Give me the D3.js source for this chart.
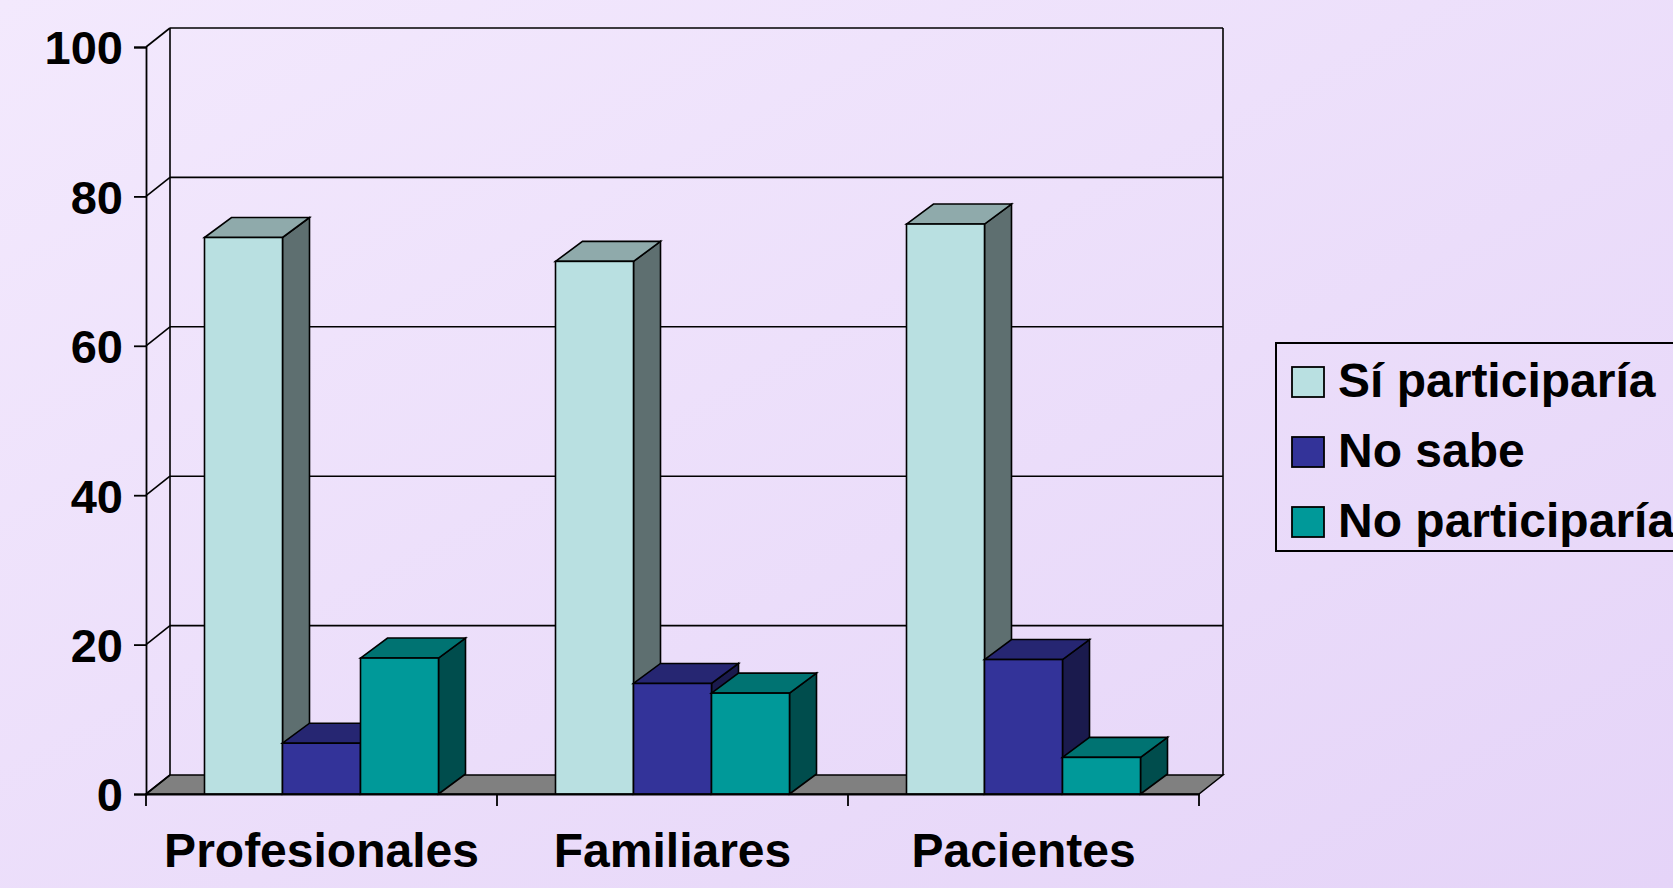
<!DOCTYPE html>
<html>
<head>
<meta charset="utf-8">
<script src="https://cdn.jsdelivr.net/npm/d3@7"></script>
<style>
html,body{margin:0;padding:0;overflow:hidden;}
svg{display:block;}
text{font-family:"Liberation Sans",Arial,sans-serif;font-weight:bold;fill:#000;}
</style>
</head>
<body>
<script>
const categories = ["Profesionales", "Familiares", "Pacientes"];
const seriesNames = ["Sí participaría", "No sabe", "No participaría"];
const siParticiparia = [74.5, 71.3, 76.3];
const noSabe = [6.8, 14.8, 18.0];
const noParticiparia = [18.2, 13.5, 4.9];
const yTicks = [0, 20, 40, 60, 80, 100];

const seriesValues = [siParticiparia, noSabe, noParticiparia];
const faceColors = [
  {front:"#B9E0E1", top:"#8FAAAB", side:"#5E6F70"},
  {front:"#333399", top:"#262672", side:"#1A1A4D"},
  {front:"#009999", top:"#007372", side:"#004D4D"}
];

const W = 1673, H = 888;
const svg = d3.select("body").append("svg").attr("width", W).attr("height", H);

const defs = svg.append("defs");
const grad = defs.append("linearGradient").attr("id","bg")
  .attr("x1","0").attr("y1","0").attr("x2","1").attr("y2","1");
grad.append("stop").attr("offset","0").attr("stop-color","#F3E9FD");
grad.append("stop").attr("offset","1").attr("stop-color","#E5D4F8");
svg.append("rect").attr("width",W).attr("height",H).attr("fill","url(#bg)");

const x = d3.scaleBand().domain(categories).range([146, 1199]);
const xs = d3.scaleBand().domain(seriesNames).range([0, x.bandwidth()]).paddingInner(0).paddingOuter(0.75);
const y = d3.scaleLinear().domain([0, 100]).range([794, 47]);

const WDX = 24, WDY = -19;   // wall depth
const BDX = 27, BDY = -20;   // bar depth
const x0 = x.range()[0], x1 = x.range()[1];

// floor
svg.append("path")
  .attr("d", `M${x0},${y(0)}L${x1},${y(0)}L${x1+WDX},${y(0)+WDY}L${x0+WDX},${y(0)+WDY}Z`)
  .attr("fill","#808080").attr("stroke","#000").attr("stroke-width",1.5);

// back wall gridlines
const g = svg.append("g").attr("stroke","#000").attr("stroke-width",1.6).attr("fill","none");
yTicks.filter(t => t > 0).forEach(t => {
  g.append("line").attr("x1", x0+WDX).attr("x2", x1+WDX)
    .attr("y1", y(t)+WDY).attr("y2", y(t)+WDY);
});
g.append("line").attr("x1", x0+WDX).attr("x2", x0+WDX).attr("y1", y(100)+WDY).attr("y2", y(0)+WDY);
g.append("line").attr("x1", x1+WDX).attr("x2", x1+WDX).attr("y1", y(100)+WDY).attr("y2", y(0)+WDY);
yTicks.forEach(t => {
  g.append("line").attr("x1", x0).attr("y1", y(t)).attr("x2", x0+WDX).attr("y2", y(t)+WDY);
});

// bars
const bars = svg.append("g").attr("stroke","#000").attr("stroke-width",1.6).attr("stroke-linejoin","miter");
categories.forEach((c, ci) => {
  seriesNames.forEach((s, si) => {
    const v = seriesValues[si][ci];
    const bx = x(c) + xs(s), bw = xs.bandwidth();
    const yt = y(v), yb = y(0);
    const col = faceColors[si];
    bars.append("path")
      .attr("d", `M${bx+bw},${yb}L${bx+bw+BDX},${yb+BDY}L${bx+bw+BDX},${yt+BDY}L${bx+bw},${yt}Z`)
      .attr("fill", col.side);
    bars.append("path")
      .attr("d", `M${bx},${yt}L${bx+BDX},${yt+BDY}L${bx+bw+BDX},${yt+BDY}L${bx+bw},${yt}Z`)
      .attr("fill", col.top);
    bars.append("rect").attr("x", bx).attr("y", yt).attr("width", bw).attr("height", yb-yt)
      .attr("fill", col.front);
  });
});

// y axis (front)
const yAxis = d3.axisLeft(y).tickValues(yTicks).tickSize(12).tickPadding(11);
const ya = svg.append("g").attr("transform", `translate(${x0},0)`).call(yAxis);
ya.select(".domain").attr("stroke","#000").attr("stroke-width",1.8);
ya.selectAll(".tick line").attr("stroke","#000").attr("stroke-width",1.8);
ya.selectAll(".tick text").style("font-size","47px").style("font-family","'Liberation Sans',Arial,sans-serif")
  .style("font-weight","bold").attr("fill","#000").attr("dy","0.36em");

// x axis (front)
const xAxis = d3.axisBottom(x).tickSize(0).tickPadding(0);
const xa = svg.append("g").attr("transform", `translate(0,${y(0)})`).call(xAxis);
xa.select(".domain").attr("stroke","#000").attr("stroke-width",1.8);
xa.selectAll(".tick text").attr("y", 73).attr("dy", 0)
  .style("font-size","48px").style("font-family","'Liberation Sans',Arial,sans-serif")
  .style("font-weight","bold").attr("fill","#000");
const bounds = categories.map(c => x(c)).concat([x1]);
bounds.forEach(b => {
  svg.append("line").attr("x1", b).attr("x2", b).attr("y1", y(0)).attr("y2", y(0)+12)
    .attr("stroke","#000").attr("stroke-width",1.8);
});

// legend
const leg = svg.append("g");
leg.append("rect").attr("x",1276).attr("y",343).attr("width",420).attr("height",208)
  .attr("fill","none").attr("stroke","#000").attr("stroke-width",2);
seriesNames.forEach((s, i) => {
  const ly = 367 + i*70;
  leg.append("rect").attr("x",1292).attr("y",ly).attr("width",32).attr("height",30)
    .attr("fill", faceColors[i].front).attr("stroke","#000").attr("stroke-width",1.8);
  leg.append("text").attr("x",1338).attr("y",ly+30).text(s).style("font-size","48px");
});
</script>
</body>
</html>
